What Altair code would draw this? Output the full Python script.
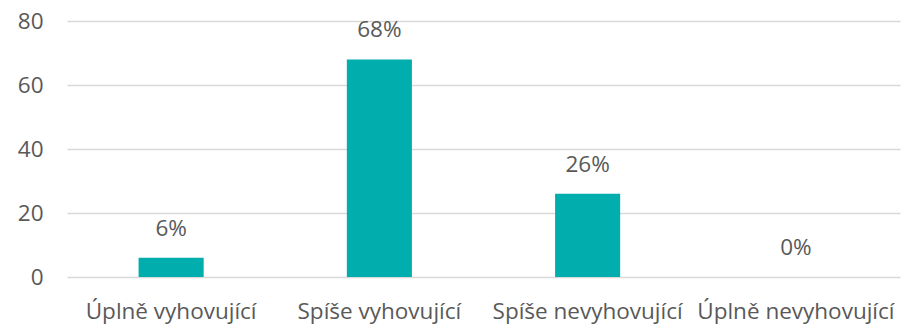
import altair as alt
import pandas as pd

categories = ["Úplně vyhovující", "Spíše vyhovující", "Spíše nevyhovující", "Úplně nevyhovující"]
values = [6, 68, 26, 0]
labels = ["6%", "68%", "26%", "0%"]

df = pd.DataFrame({"kategorie": categories, "hodnota": values, "popisek": labels})

FONT = "Open Sans"
GREY = "#595959"
SIZE = 22.5

x_axis = alt.Axis(
    title=None, labelAngle=0, domain=False, ticks=False, grid=False,
    labelFont=FONT, labelFontSize=SIZE, labelColor=GREY, labelPadding=23,
    labelLimit=400,
)
x_scale = alt.Scale(paddingInner=0.6875, paddingOuter=0.34375)

y_enc = alt.Y(
    "hodnota:Q",
    scale=alt.Scale(domain=[0, 80]),
    axis=alt.Axis(
        title=None, values=[0, 20, 40, 60, 80], domain=False, ticks=False,
        labelFont=FONT, labelFontSize=SIZE, labelColor=GREY, labelPadding=24,
        gridColor="#D9D9D9", gridWidth=1.3,
    ),
)

bars = alt.Chart(df).mark_bar(color="#02ADAD").encode(
    x=alt.X("kategorie:N", sort=categories, scale=x_scale, axis=x_axis),
    y=y_enc,
)

text = alt.Chart(df).mark_text(
    baseline="bottom", dy=-17, font=FONT, fontSize=SIZE, color=GREY
).encode(
    x=alt.X("kategorie:N", sort=categories, scale=x_scale, axis=x_axis),
    y="hodnota:Q",
    text="popisek:N",
)

chart = (
    alt.layer(bars, text)
    .properties(
        width=833,
        height=256,
        background="white",
        autosize=alt.AutoSizeParams(type="none"),
        padding={"left": 67, "top": 21, "right": 7, "bottom": 50},
    )
    .configure_view(strokeWidth=0)
)

chart.save("out.html", embed_options={"renderer": "svg", "actions": False})
